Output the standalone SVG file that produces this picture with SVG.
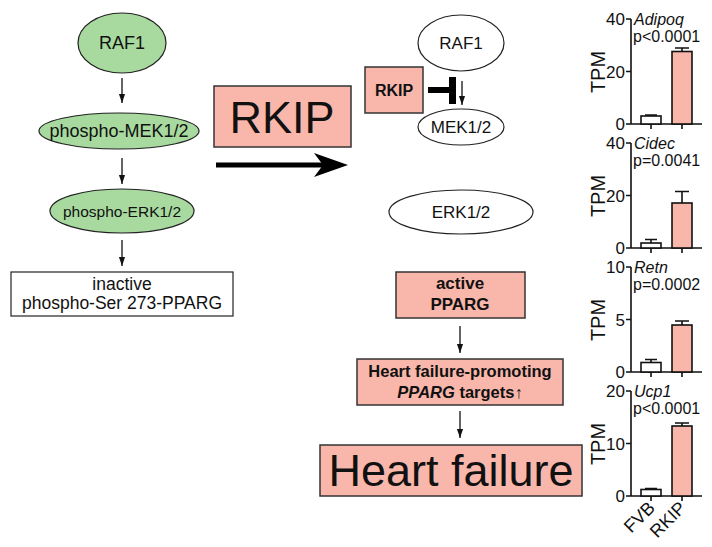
<svg xmlns="http://www.w3.org/2000/svg" width="712" height="547" viewBox="0 0 712 547">
<style>
  text { font-family: "Liberation Sans", Arial, sans-serif; fill: #111; }
  .mid { text-anchor: middle; }
  .bold { font-weight: bold; }
  .green { fill: #a8da9f; stroke: #222; stroke-width: 1.2; }
  .white { fill: #fff; stroke: #222; stroke-width: 1.2; }
  .pink { fill: #f9b7ab; stroke: #333; stroke-width: 1.5; }
  .arr { stroke: #111; stroke-width: 1.3; fill: none; marker-end: url(#ah); }
  .ax { stroke: #111; stroke-width: 1.6; fill: none; }
  .barw { fill: #fff; stroke: #111; stroke-width: 1.6; }
  .barp { fill: #f9b7ab; stroke: #111; stroke-width: 1.6; }
  .tick { font-size: 17px; text-anchor: end; }
  .gene { font-size: 16px; font-style: italic; }
  .pv { font-size: 16px; }
  .tpm { font-size: 20px; text-anchor: middle; }
  .xl { font-size: 18px; text-anchor: end; }
</style>
<defs>
  <marker id="ah" viewBox="0 0 10 10" refX="10" refY="5" markerWidth="9" markerHeight="9" markerUnits="userSpaceOnUse" orient="auto">
    <path d="M0,1.6 L10,5 L0,8.4 z" fill="#111"/>
  </marker>
</defs>
<rect width="712" height="547" fill="#fff"/>

<!-- Left column (without RKIP) -->
<g id="left-raf1">
  <ellipse class="green" cx="122" cy="43" rx="44" ry="30"/>
  <text class="mid" x="122" y="49" font-size="18">RAF1</text>
</g>
<g id="left-mek">
  <ellipse class="green" cx="119" cy="131" rx="80" ry="18"/>
  <text class="mid" x="119" y="137" font-size="18">phospho-MEK1/2</text>
</g>
<g id="left-erk">
  <ellipse class="green" cx="122" cy="211" rx="72" ry="22"/>
  <text class="mid" x="122" y="216.5" font-size="15.5">phospho-ERK1/2</text>
</g>
<g id="left-pparg">
  <rect class="white" x="11" y="272" width="222" height="44"/>
  <text class="mid" x="122" y="290" font-size="17.5">inactive</text>
  <text class="mid" x="122" y="309" font-size="17.5">phospho-Ser 273-PPARG</text>
</g>

<!-- RKIP big -->
<g id="rkip-big">
  <rect class="pink" x="214" y="86" width="137" height="61"/>
  <text class="mid" x="282" y="133" font-size="45">RKIP</text>
</g>

<!-- Right column (with RKIP) -->
<g id="right-raf1">
  <ellipse class="white" cx="461" cy="43" rx="43" ry="28"/>
  <text class="mid" x="461" y="49" font-size="17">RAF1</text>
</g>
<g id="rkip-small">
  <rect class="pink" x="365" y="67" width="58" height="46"/>
  <text class="mid bold" x="394" y="96" font-size="16">RKIP</text>
</g>
<g id="right-mek">
  <ellipse class="white" cx="461" cy="127" rx="43" ry="18"/>
  <text class="mid" x="461" y="133" font-size="17">MEK1/2</text>
</g>
<g id="right-erk">
  <ellipse class="white" cx="461" cy="212" rx="72" ry="22"/>
  <text class="mid" x="461" y="218" font-size="17">ERK1/2</text>
</g>
<g id="active-pparg">
  <rect class="pink" x="396" y="272" width="129" height="46"/>
  <text class="mid bold" x="460" y="289" font-size="17">active</text>
  <text class="mid bold" x="460" y="310" font-size="17">PPARG</text>
</g>
<g id="hf-targets">
  <rect class="pink" x="357" y="359" width="206" height="46"/>
  <text class="mid bold" x="460" y="377" font-size="16.5">Heart failure-promoting</text>
  <text class="mid bold" x="460" y="398" font-size="16.5"><tspan font-style="italic">PPARG</tspan> targets↑</text>
</g>
<g id="heart-failure">
  <rect class="pink" x="320" y="445" width="262" height="51"/>
  <text class="mid" x="451" y="486" font-size="45">Heart failure</text>
</g>

<!-- Connectors -->
<g id="connectors">
  <line class="arr" x1="122" y1="78" x2="122" y2="103"/>
  <line class="arr" x1="122" y1="158" x2="122" y2="184"/>
  <line class="arr" x1="122" y1="240" x2="122" y2="266"/>
  <line x1="216" y1="165" x2="325" y2="165" stroke="#000" stroke-width="5"/>
  <polygon points="348,165 314,153 323,165 314,177" fill="#000"/>
  <line class="arr" x1="462" y1="81" x2="462" y2="105"/>
  <line x1="428" y1="90" x2="452" y2="90" stroke="#000" stroke-width="6"/>
  <rect x="449" y="77" width="7" height="27" fill="#000"/>
  <line class="arr" x1="460" y1="326" x2="460" y2="353"/>
  <line class="arr" x1="460" y1="411" x2="460" y2="438"/>
</g>

<!-- Charts -->
<g id="chart-adipoq">
  <text class="tpm" transform="translate(605,72) rotate(-90)">TPM</text>
  <path class="ax" d="M631,19 V124 H702 M626,19 H631 M626,71.5 H631 M626,124 H631 M651,124 V129 M682,124 V129"/>
  <text class="tick" x="625" y="25">40</text>
  <text class="tick" x="625" y="77.5">20</text>
  <text class="tick" x="625" y="130">0</text>
  <text class="gene" x="634" y="25">Adipoq</text>
  <text class="pv" x="633" y="42">p&lt;0.0001</text>
  <rect class="barw" x="641" y="116" width="20" height="8"/>
  <path class="ax" d="M651,116 V115 M645,115 H657"/>
  <rect class="barp" x="672" y="51.5" width="20" height="72.5"/>
  <path class="ax" d="M682,51.5 V48 M675,48 H689"/>
</g>
<g id="chart-cidec">
  <text class="tpm" transform="translate(605,196) rotate(-90)">TPM</text>
  <path class="ax" d="M631,143 V248 H702 M626,143 H631 M626,195.5 H631 M626,248 H631 M651,248 V253 M682,248 V253"/>
  <text class="tick" x="625" y="149">40</text>
  <text class="tick" x="625" y="201.5">20</text>
  <text class="tick" x="625" y="254">0</text>
  <text class="gene" x="634" y="149">Cidec</text>
  <text class="pv" x="633" y="166">p=0.0041</text>
  <rect class="barw" x="641" y="243" width="20" height="5"/>
  <path class="ax" d="M651,243 V239.5 M645,239.5 H657"/>
  <rect class="barp" x="672" y="203" width="20" height="45"/>
  <path class="ax" d="M682,203 V191.5 M675,191.5 H689"/>
</g>
<g id="chart-retn">
  <text class="tpm" transform="translate(605,320) rotate(-90)">TPM</text>
  <path class="ax" d="M631,267 V372 H702 M626,267 H631 M626,319.5 H631 M626,372 H631 M651,372 V377 M682,372 V377"/>
  <text class="tick" x="625" y="273">10</text>
  <text class="tick" x="625" y="325.5">5</text>
  <text class="tick" x="625" y="378">0</text>
  <text class="gene" x="634" y="273">Retn</text>
  <text class="pv" x="633" y="290">p=0.0002</text>
  <rect class="barw" x="641" y="362.5" width="20" height="9.5"/>
  <path class="ax" d="M651,362.5 V359.5 M645,359.5 H657"/>
  <rect class="barp" x="672" y="325" width="20" height="47"/>
  <path class="ax" d="M682,325 V321 M675,321 H689"/>
</g>
<g id="chart-ucp1">
  <text class="tpm" transform="translate(605,444) rotate(-90)">TPM</text>
  <path class="ax" d="M631,391 V496 H702 M626,391 H631 M626,443.5 H631 M626,496 H631 M651,496 V501 M682,496 V501"/>
  <text class="tick" x="625" y="397">20</text>
  <text class="tick" x="625" y="449.5">10</text>
  <text class="tick" x="625" y="502">0</text>
  <text class="gene" x="634" y="397">Ucp1</text>
  <text class="pv" x="633" y="414">p&lt;0.0001</text>
  <rect class="barw" x="641" y="489.5" width="20" height="6.5"/>
  <path class="ax" d="M651,489.5 V488.5 M645,488.5 H657"/>
  <rect class="barp" x="672" y="426" width="20" height="70"/>
  <path class="ax" d="M682,426 V423 M675,423 H689"/>
  <text class="xl" transform="translate(656,509) rotate(-45)">FVB</text>
  <text class="xl" transform="translate(687,509) rotate(-45)">RKIP</text>
</g>
</svg>
